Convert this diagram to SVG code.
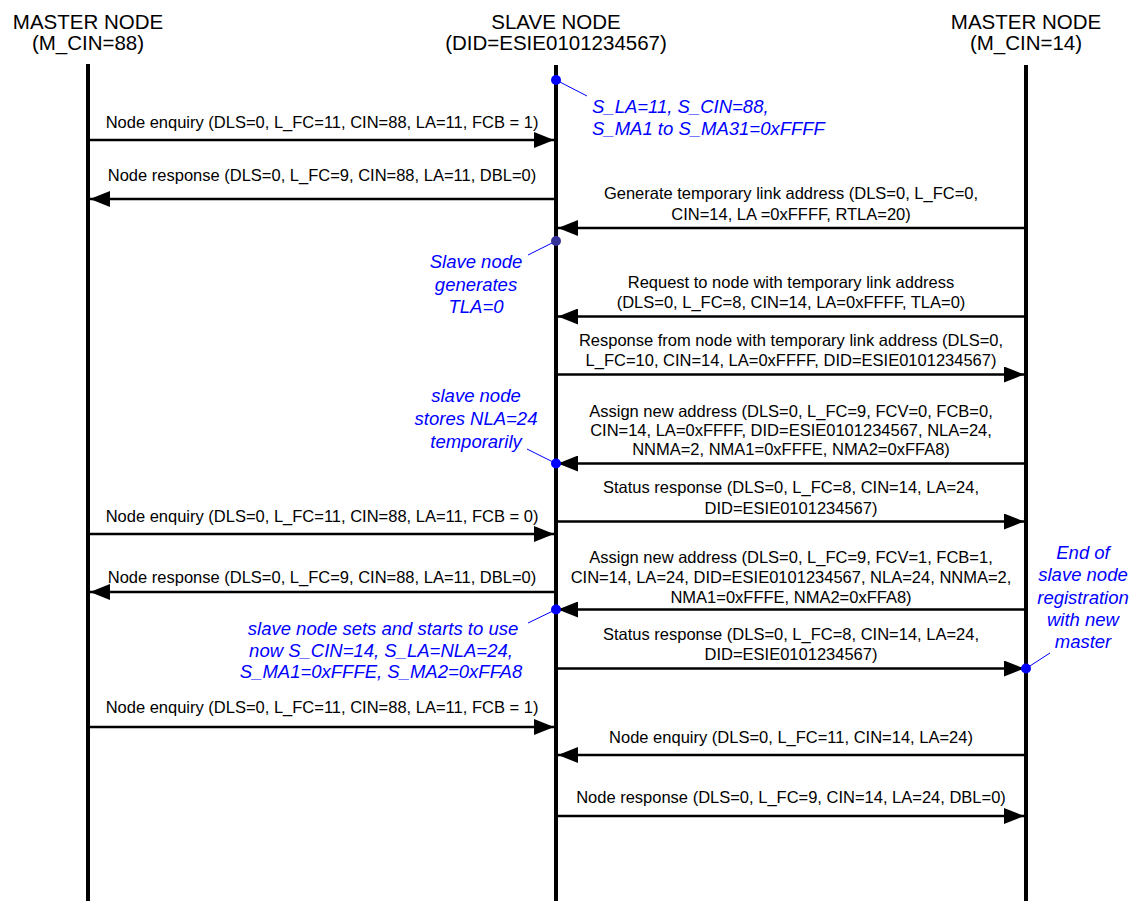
<svg xmlns="http://www.w3.org/2000/svg" width="1139" height="901" viewBox="0 0 1139 901">
  <style>
    .head { font-family: "Liberation Sans", Arial, sans-serif; font-size: 20.5px; fill: #000; text-anchor: middle; }
    .msg { font-family: "Liberation Sans", Arial, sans-serif; font-size: 16.5px; fill: #000; text-anchor: middle; }
    .note { font-family: "Liberation Sans", Arial, sans-serif; font-size: 18.5px; font-style: italic; fill: #0000ff; }
    .life { stroke: #000; stroke-width: 4; fill: none; }
    .arrow { stroke: #000; stroke-width: 2.5; fill: none; marker-end: url(#head); }
    .lead { stroke: #0000ff; stroke-width: 1; fill: none; }
    .dot { fill: #0000ff; }
    .dot2 { fill: #333399; }
  </style>
  <defs>
    <marker id="head" markerUnits="userSpaceOnUse" markerWidth="20" markerHeight="16" refX="20" refY="8" orient="auto" viewBox="0 0 20 16">
      <path d="M0,0 L20,8 L0,16 Z" fill="#000"/>
    </marker>
  </defs>
  <rect width="1139" height="901" fill="#fff"/>

  <!-- lifelines with their headers -->
  <g id="master88">
    <text class="head" x="88" y="28.5">MASTER NODE</text>
    <text class="head" x="88" y="49.5">(M_CIN=88)</text>
    <line class="life" x1="88" y1="64" x2="88" y2="901"/>
  </g>
  <g id="slave">
    <text class="head" x="556" y="28.5">SLAVE NODE</text>
    <text class="head" x="556" y="49.5">(DID=ESIE0101234567)</text>
    <line class="life" x1="556" y1="65" x2="556" y2="901"/>
  </g>
  <g id="master14">
    <text class="head" x="1026" y="28.5">MASTER NODE</text>
    <text class="head" x="1026" y="49.5">(M_CIN=14)</text>
    <line class="life" x1="1026" y1="65" x2="1026" y2="901"/>
  </g>

  <!-- messages -->
  <g id="connectors">
    <line class="arrow" x1="88" y1="140" x2="554" y2="140"/>
    <text class="msg" x="322" y="128">Node enquiry (DLS=0, L_FC=11, CIN=88, LA=11, FCB = 1)</text>

    <line class="arrow" x1="556" y1="199" x2="90" y2="199"/>
    <text class="msg" x="322" y="181">Node response (DLS=0, L_FC=9, CIN=88, LA=11, DBL=0)</text>

    <line class="arrow" x1="1026" y1="228" x2="558" y2="228"/>
    <text class="msg" x="791" y="199">Generate temporary link address (DLS=0, L_FC=0,</text>
    <text class="msg" x="791" y="220">CIN=14, LA =0xFFFF, RTLA=20)</text>

    <line class="arrow" x1="1026" y1="316.5" x2="558" y2="316.5"/>
    <text class="msg" x="791" y="288">Request to node with temporary link address</text>
    <text class="msg" x="791" y="307.5">(DLS=0, L_FC=8, CIN=14, LA=0xFFFF, TLA=0)</text>

    <line class="arrow" x1="556" y1="374.5" x2="1024" y2="374.5"/>
    <text class="msg" x="791" y="346">Response from node with temporary link address (DLS=0,</text>
    <text class="msg" x="791" y="366">L_FC=10, CIN=14, LA=0xFFFF, DID=ESIE0101234567)</text>

    <line class="arrow" x1="1026" y1="463.5" x2="558" y2="463.5"/>
    <text class="msg" x="791" y="416.5">Assign new address (DLS=0, L_FC=9, FCV=0, FCB=0,</text>
    <text class="msg" x="791" y="435.5">CIN=14, LA=0xFFFF, DID=ESIE0101234567, NLA=24,</text>
    <text class="msg" x="791" y="455">NNMA=2, NMA1=0xFFFE, NMA2=0xFFA8)</text>

    <line class="arrow" x1="556" y1="521.5" x2="1024" y2="521.5"/>
    <text class="msg" x="791" y="493">Status response (DLS=0, L_FC=8, CIN=14, LA=24,</text>
    <text class="msg" x="791" y="514">DID=ESIE0101234567)</text>

    <line class="arrow" x1="88" y1="534" x2="554" y2="534"/>
    <text class="msg" x="322" y="521.5">Node enquiry (DLS=0, L_FC=11, CIN=88, LA=11, FCB = 0)</text>

    <line class="arrow" x1="1026" y1="609.5" x2="558" y2="609.5"/>
    <text class="msg" x="791" y="563">Assign new address (DLS=0, L_FC=9, FCV=1, FCB=1,</text>
    <text class="msg" x="791" y="582.5">CIN=14, LA=24, DID=ESIE0101234567, NLA=24, NNMA=2,</text>
    <text class="msg" x="791" y="603">NMA1=0xFFFE, NMA2=0xFFA8)</text>

    <line class="arrow" x1="556" y1="592" x2="90" y2="592"/>
    <text class="msg" x="322" y="582.5">Node response (DLS=0, L_FC=9, CIN=88, LA=11, DBL=0)</text>

    <line class="arrow" x1="556" y1="668.5" x2="1024" y2="668.5"/>
    <text class="msg" x="791" y="640">Status response (DLS=0, L_FC=8, CIN=14, LA=24,</text>
    <text class="msg" x="791" y="660">DID=ESIE0101234567)</text>

    <line class="arrow" x1="88" y1="727" x2="554" y2="727"/>
    <text class="msg" x="322" y="713">Node enquiry (DLS=0, L_FC=11, CIN=88, LA=11, FCB = 1)</text>

    <line class="arrow" x1="1026" y1="755" x2="558" y2="755"/>
    <text class="msg" x="791" y="742.5">Node enquiry (DLS=0, L_FC=11, CIN=14, LA=24)</text>

    <line class="arrow" x1="556" y1="816" x2="1024" y2="816"/>
    <text class="msg" x="791" y="802.5">Node response (DLS=0, L_FC=9, CIN=14, LA=24, DBL=0)</text>
  </g>

  <!-- state notes on the lifelines -->
  <g id="note-initial">
    <line class="lead" x1="556" y1="80" x2="587" y2="96"/>
    <circle class="dot" cx="556" cy="80" r="5"/>
    <text class="note" x="592" y="113">S_LA=11, S_CIN=88,</text>
    <text class="note" x="592" y="135">S_MA1 to S_MA31=0xFFFF</text>
  </g>
  <g id="note-tla">
    <line class="lead" x1="556" y1="241" x2="528" y2="255"/>
    <circle class="dot2" cx="556" cy="241" r="5"/>
    <text class="note" x="476" y="268" text-anchor="middle">Slave node</text>
    <text class="note" x="476" y="290.5" text-anchor="middle">generates</text>
    <text class="note" x="476" y="313" text-anchor="middle">TLA=0</text>
  </g>
  <g id="note-nla">
    <line class="lead" x1="556" y1="463.5" x2="527" y2="449"/>
    <circle class="dot" cx="556" cy="463.5" r="5"/>
    <text class="note" x="476" y="402" text-anchor="middle">slave node</text>
    <text class="note" x="476" y="425" text-anchor="middle">stores NLA=24</text>
    <text class="note" x="476" y="447.5" text-anchor="middle">temporarily</text>
  </g>
  <g id="note-sets">
    <line class="lead" x1="556" y1="609.5" x2="528" y2="623"/>
    <circle class="dot" cx="556" cy="609.5" r="5"/>
    <text class="note" x="383" y="635" text-anchor="middle">slave node sets and starts to use</text>
    <text class="note" x="381" y="656.5" text-anchor="middle">now S_CIN=14, S_LA=NLA=24,</text>
    <text class="note" x="381" y="678" text-anchor="middle">S_MA1=0xFFFE, S_MA2=0xFFA8</text>
  </g>
  <g id="note-end">
    <line class="lead" x1="1026" y1="668.5" x2="1050" y2="653"/>
    <circle class="dot" cx="1026" cy="668.5" r="5"/>
    <text class="note" x="1083" y="559" text-anchor="middle">End of</text>
    <text class="note" x="1083" y="581" text-anchor="middle">slave node</text>
    <text class="note" x="1083" y="603.5" text-anchor="middle">registration</text>
    <text class="note" x="1083" y="625.5" text-anchor="middle">with new</text>
    <text class="note" x="1083" y="648" text-anchor="middle">master</text>
  </g>
</svg>
